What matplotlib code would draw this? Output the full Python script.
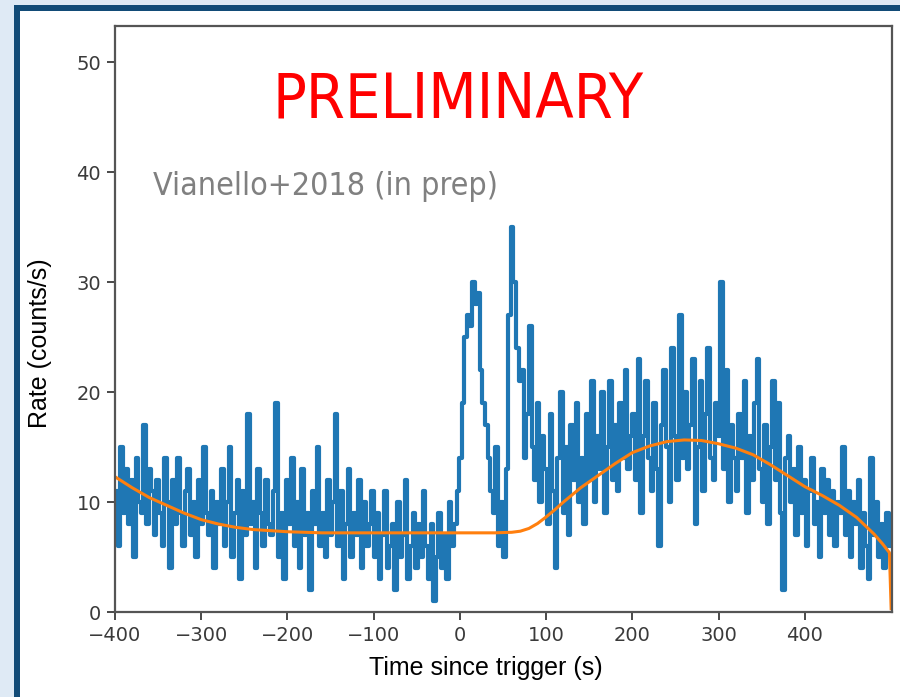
import numpy as np
import matplotlib
matplotlib.use("Agg")
import matplotlib.pyplot as plt
from matplotlib.patches import Rectangle

# light curve, 3 s bins starting at t = -400 s
bin_start = -400
bin_width = 3
rate = [
    11, 6, 15, 9, 13, 8, 12, 5, 14, 10, 9, 17, 8, 13, 11, 7, 12, 9, 6, 14,
    10, 4, 12, 8, 14, 9, 6, 11, 13, 7, 10, 5, 12, 8, 15, 9, 7, 11, 4, 10,
    8, 13, 6, 10, 15, 5, 9, 12, 3, 11, 7, 18, 8, 10, 4, 13, 9, 6, 12, 8,
    7, 11, 19, 5, 9, 3, 12, 8, 14, 6, 10, 4, 13, 7, 9, 2, 11, 8, 15, 6,
    9, 5, 12, 7, 10, 18, 6, 11, 3, 8, 13, 5, 9, 7, 12, 4, 10, 6, 8, 11,
    5, 9, 3, 7, 11, 4, 6, 8, 2, 10, 5, 7, 12, 3, 6, 9, 4, 8, 5, 11,
    6, 3, 8, 1, 5, 9, 4, 7, 3, 10, 6, 8, 11, 14, 19, 25, 27, 26, 30, 28,
    29, 22, 19, 17, 14, 11, 9, 15, 6, 10, 5, 13, 27, 35, 30, 24, 21, 22, 14, 18,
    26, 15, 12, 19, 10, 16, 13, 8, 18, 11, 4, 14, 20, 9, 15, 7, 17, 12, 19, 10,
    14, 8, 18, 12, 21, 10, 16, 13, 20, 9, 15, 21, 12, 17, 11, 19, 14, 22, 13, 16,
    18, 12, 23, 9, 16, 21, 14, 11, 19, 13, 6, 17, 22, 15, 10, 24, 16, 12, 27, 14,
    20, 13, 17, 23, 8, 15, 21, 11, 18, 24, 14, 12, 19, 16, 30, 13, 22, 10, 17, 14,
    11, 18, 14, 21, 9, 16, 12, 19, 23, 13, 10, 17, 8, 15, 21, 12, 19, 9, 2, 14,
    16, 10, 13, 7, 15, 9, 12, 6, 11, 14, 8, 10, 5, 13, 9, 12, 7, 11, 6, 10,
    9, 15, 7, 11, 5, 10, 8, 12, 4, 9, 6, 3, 14, 7, 10, 5, 8, 4, 9, 6,
]

# background model
bkg_time = [-400, -380, -360, -340, -320, -300, -280, -260, -240, -220,
            -200, -180, -160, -140, -120, -100, -80, -60, -40, -20,
            0, 20, 40, 60, 70, 80, 90, 100, 110, 120, 130, 140, 160, 180,
            200, 220, 240, 260, 280, 300, 320, 340, 360, 380,
            400, 420, 440, 460, 480, 490, 498, 500]
bkg_rate = [12.3, 11.3, 10.4, 9.7, 9.0, 8.4, 8.0, 7.7, 7.5, 7.4,
            7.3, 7.25, 7.2, 7.2, 7.2, 7.2, 7.2, 7.2, 7.2, 7.2,
            7.2, 7.2, 7.2, 7.25, 7.35, 7.6, 8.05, 8.65, 9.3, 10.0, 10.65, 11.3, 12.4, 13.5,
            14.5, 15.1, 15.5, 15.65, 15.6, 15.3, 14.9, 14.3, 13.4, 12.4,
            11.4, 10.6, 9.7, 8.6, 7.1, 6.2, 5.4, 0.3]

xticks = [-400, -300, -200, -100, 0, 100, 200, 300, 400]
yticks = [0, 10, 20, 30, 40, 50]

t = bin_start + bin_width * np.arange(len(rate))
t_edges = np.append(t, t[-1] + bin_width)
r_edges = np.append(rate, rate[-1])

fig = plt.figure(figsize=(9, 6.97), dpi=100)
fig.patch.set_facecolor("#dfeaf5")

# slide frame behind the axes
W, H = 900, 697
fig.patches.append(Rectangle((14 / W, 0), 1, 1 - 5 / H, transform=fig.transFigure,
                             facecolor="#124b77", edgecolor="none", zorder=-2))
fig.patches.append(Rectangle((20 / W, 0), 1, 1 - 11 / H, transform=fig.transFigure,
                             facecolor="white", edgecolor="none", zorder=-1))

ax = fig.add_axes([115 / W, 85 / H, 777 / W, 586 / H])
ax.set_zorder(1)
ax.step(t_edges, r_edges, where="post", color="#1f77b4", lw=3.0)
ax.plot(bkg_time, bkg_rate, color="#ff7f0e", lw=2.2)

ax.set_xlim(-400, 501)
ax.set_ylim(0, 53.3)
ax.set_xticks(xticks)
ax.set_yticks(yticks)
ax.tick_params(labelsize=14, colors="#3a3a3a", length=6, width=1.3, pad=4)
for s in ax.spines.values():
    s.set_color("#555555")
    s.set_linewidth(1.6)

fig.text(486 / W, 1 - 668 / H, "Time since trigger (s)", fontsize=18,
         family=["Liberation Sans", "DejaVu Sans"], ha="center", va="center")
fig.text(40 / W, 1 - 343 / H, "Rate (counts/s)", fontsize=18, rotation=90,
         family=["Liberation Sans", "DejaVu Sans"], ha="center", va="center")

fig.text(458 / W, 1 - 100 / H, "PRELIMINARY", fontsize=45, color="red",
         family="DejaVu Sans", fontstretch="condensed", ha="center", va="center",
         zorder=3)
fig.text(153 / W, 1 - 186 / H, "Vianello+2018 (in prep)", fontsize=23,
         color="#808080", family="DejaVu Sans", fontstretch="condensed",
         ha="left", va="center", zorder=3)

fig.savefig("out.png", dpi=100, facecolor=fig.get_facecolor())
